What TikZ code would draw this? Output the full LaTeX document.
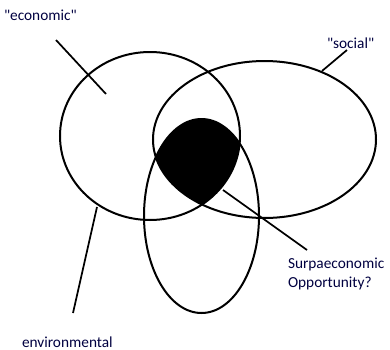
\documentclass[tikz,border=0pt]{standalone}
\usepackage{fontspec}
\setmainfont{Carlito}
\usepackage{tikz}
\usetikzlibrary{positioning}

\begin{document}
\begin{tikzpicture}[x=0.75pt, y=-0.75pt, line width=1.5pt,
  lbl/.style={font=\fontsize{11.5}{14}\selectfont, text=blue!25!black, inner sep=0pt},
  ptr/.style={line width=1.3pt}]
\useasboundingbox (0,0) rectangle (390,350);
\coordinate (eco) at (150,136);
\coordinate (soc) at (264.5,139.5);
\coordinate (env) at (201.5,216);
\begin{scope}
  \clip (eco) ellipse [x radius=90, y radius=84];
  \clip (soc) ellipse [x radius=111.5, y radius=78.5];
  \fill (env) ellipse [x radius=57.5, y radius=97];
\end{scope}
\draw (eco) ellipse [x radius=90, y radius=84];
\draw (soc) ellipse [x radius=111.5, y radius=78.5];
\draw (env) ellipse [x radius=57.5, y radius=97];
\node[lbl, anchor=west] (ecolab) at (3,15) {\textquotedbl economic\textquotedbl};
\node[lbl, anchor=west] (soclab) at (326,43) {\textquotedbl social\textquotedbl};
\node[lbl, anchor=west] (envlab) at (21,342) {environmental};
\node[lbl, anchor=north west, align=left] (opplab) at (287,257) {Surpaeconomic\\Opportunity?};
\coordinate (ecoa) at (56,40); \coordinate (ecob) at (106,94);
\coordinate (soca) at (347,50); \coordinate (socb) at (322,71);
\coordinate (enva) at (97,207); \coordinate (envb) at (73,313);
\coordinate (oppa) at (223,190); \coordinate (oppb) at (307,250);
\foreach \a/\b in {ecoa/ecob, soca/socb, enva/envb, oppa/oppb} \draw[ptr] (\a) -- (\b);
\end{tikzpicture}
\end{document}
